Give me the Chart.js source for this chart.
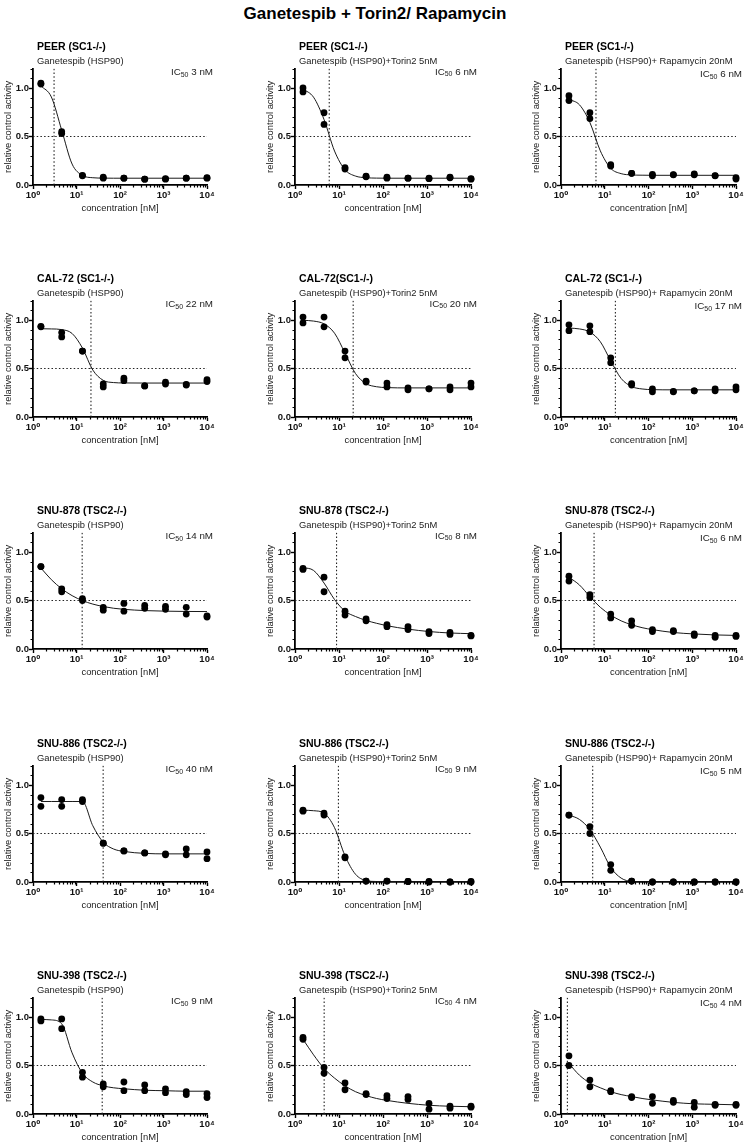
<!DOCTYPE html>
<html>
<head>
<meta charset="utf-8">
<script src="https://cdn.jsdelivr.net/npm/chart.js@4.4.1/dist/chart.umd.min.js"></script>
<style>
  html, body { margin: 0; padding: 0; background: #fff; overflow: hidden; }
  body { width: 750px; height: 1146px; position: relative; font-family: "Liberation Sans", Arial, sans-serif; }
  #mainTitle { position: absolute; left: 0; top: 3px; width: 750px; text-align: center;
               font-weight: bold; font-size: 17px; line-height: 22px; color: #000; }
  canvas { position: absolute; }
</style>
</head>
<body>
<div id="mainTitle">Ganetespib + Torin2/ Rapamycin</div>
<script>
// 3-fold dilution series (nM)
const conc = [1.52, 4.57, 13.7, 41.2, 123, 370, 1111, 3333, 10000];
const curveConc = [1.52, 2.64, 4.57, 7.92, 13.7, 23.7, 41.2, 71.3, 123, 370, 1111, 3333, 10000];

const xTicks = [1, 10, 100, 1000, 10000];
const yTicks = [0, 0.5, 1.0];

// panels, row by row
const cellLines = [
  'PEER (SC1-/-)', 'PEER (SC1-/-)', 'PEER (SC1-/-)',
  'CAL-72 (SC1-/-)', 'CAL-72(SC1-/-)', 'CAL-72 (SC1-/-)',
  'SNU-878 (TSC2-/-)', 'SNU-878 (TSC2-/-)', 'SNU-878 (TSC2-/-)',
  'SNU-886 (TSC2-/-)', 'SNU-886 (TSC2-/-)', 'SNU-886 (TSC2-/-)',
  'SNU-398 (TSC2-/-)', 'SNU-398 (TSC2-/-)', 'SNU-398 (TSC2-/-)'
];
const treatments = ['Ganetespib (HSP90)', 'Ganetespib (HSP90)+Torin2 5nM', 'Ganetespib (HSP90)+ Rapamycin 20nM'];
const ic50Labels = ['3', '6', '6', '22', '20', '17', '14', '8', '6', '40', '9', '5', '9', '4', '4'];
const ic50Lines = [3.05, 6.0, 6.3, 21.5, 21, 17.5, 13.5, 8.8, 5.7, 41, 9.7, 5.3, 39, 4.6, 1.4];

// replicate 1 / replicate 2 (relative control activity)
const repA = [
  [1.05, 0.55, 0.10, 0.08, 0.07, 0.06, 0.065, 0.07, 0.07],
  [1.00, 0.745, 0.18, 0.09, 0.08, 0.07, 0.07, 0.08, 0.065],
  [0.92, 0.745, 0.21, 0.12, 0.11, 0.107, 0.114, 0.097, 0.076],
  [0.935, 0.87, 0.68, 0.34, 0.40, 0.32, 0.36, 0.335, 0.385],
  [1.03, 1.03, 0.68, 0.37, 0.35, 0.30, 0.29, 0.31, 0.35],
  [0.95, 0.94, 0.61, 0.345, 0.29, 0.26, 0.27, 0.29, 0.31],
  [0.85, 0.62, 0.52, 0.43, 0.47, 0.45, 0.44, 0.43, 0.34],
  [0.83, 0.74, 0.39, 0.31, 0.25, 0.23, 0.18, 0.17, 0.14],
  [0.75, 0.56, 0.36, 0.29, 0.20, 0.19, 0.155, 0.14, 0.14],
  [0.87, 0.85, 0.85, 0.40, 0.32, 0.30, 0.29, 0.34, 0.31],
  [0.74, 0.71, 0.26, 0.01, 0.01, 0.005, 0.005, 0.0, 0.005],
  [0.69, 0.57, 0.18, 0.01, 0.0, 0.0, 0.0, 0.0, 0.0],
  [0.98, 0.98, 0.43, 0.31, 0.33, 0.30, 0.26, 0.23, 0.21],
  [0.79, 0.48, 0.32, 0.21, 0.19, 0.18, 0.11, 0.08, 0.08],
  [0.60, 0.35, 0.24, 0.18, 0.18, 0.14, 0.12, 0.10, 0.10]
];
const repB = [
  [1.04, 0.53, 0.095, 0.07, 0.07, 0.06, 0.06, 0.07, 0.075],
  [0.96, 0.625, 0.165, 0.085, 0.07, 0.07, 0.065, 0.075, 0.06],
  [0.87, 0.685, 0.195, 0.12, 0.095, 0.105, 0.105, 0.095, 0.062],
  [0.93, 0.826, 0.68, 0.31, 0.375, 0.32, 0.34, 0.33, 0.365],
  [0.97, 0.93, 0.61, 0.36, 0.31, 0.28, 0.29, 0.28, 0.31],
  [0.89, 0.88, 0.56, 0.33, 0.26, 0.265, 0.27, 0.27, 0.28],
  [0.85, 0.59, 0.50, 0.40, 0.39, 0.42, 0.41, 0.36, 0.33],
  [0.82, 0.59, 0.35, 0.29, 0.23, 0.20, 0.16, 0.15, 0.135],
  [0.70, 0.53, 0.32, 0.245, 0.18, 0.18, 0.14, 0.12, 0.13],
  [0.78, 0.78, 0.83, 0.40, 0.32, 0.30, 0.28, 0.28, 0.24],
  [0.73, 0.69, 0.25, 0.01, 0.01, 0.005, 0.0, 0.0, 0.0],
  [0.69, 0.50, 0.12, 0.01, 0.0, 0.0, 0.0, 0.0, 0.0],
  [0.96, 0.88, 0.38, 0.28, 0.24, 0.24, 0.22, 0.20, 0.17],
  [0.77, 0.42, 0.25, 0.20, 0.16, 0.15, 0.05, 0.06, 0.07],
  [0.50, 0.28, 0.23, 0.17, 0.11, 0.12, 0.07, 0.09, 0.09]
];

// fitted curve, read at curveConc
const fitY = [
  [1.022, 0.908, 0.565, 0.216, 0.099, 0.075, 0.071, 0.07, 0.07, 0.07, 0.07, 0.07, 0.07],
  [0.99, 0.905, 0.675, 0.35, 0.157, 0.092, 0.075, 0.071, 0.07, 0.07, 0.07, 0.07, 0.07],
  [0.883, 0.827, 0.645, 0.352, 0.172, 0.117, 0.104, 0.101, 0.10, 0.10, 0.10, 0.10, 0.10],
  [0.91, 0.908, 0.901, 0.861, 0.711, 0.484, 0.378, 0.355, 0.351, 0.35, 0.35, 0.35, 0.35],
  [0.997, 0.989, 0.96, 0.864, 0.659, 0.448, 0.344, 0.312, 0.303, 0.30, 0.30, 0.30, 0.30],
  [0.917, 0.908, 0.876, 0.776, 0.579, 0.397, 0.314, 0.289, 0.282, 0.28, 0.28, 0.28, 0.28],
  [0.835, 0.715, 0.621, 0.550, 0.499, 0.463, 0.438, 0.420, 0.409, 0.396, 0.39, 0.387, 0.386],
  [0.84, 0.81, 0.68, 0.51, 0.39, 0.335, 0.295, 0.265, 0.24, 0.205, 0.18, 0.165, 0.158],
  [0.74, 0.66, 0.54, 0.43, 0.35, 0.29, 0.25, 0.22, 0.20, 0.17, 0.155, 0.145, 0.14],
  [0.83, 0.83, 0.83, 0.83, 0.83, 0.58, 0.41, 0.34, 0.315, 0.295, 0.29, 0.29, 0.29],
  [0.74, 0.735, 0.71, 0.56, 0.27, 0.08, 0.015, 0.005, 0.003, 0.002, 0.002, 0.002, 0.002],
  [0.69, 0.645, 0.54, 0.36, 0.15, 0.04, 0.005, 0.0, 0.0, 0.0, 0.0, 0.0, 0.0],
  [0.975, 0.97, 0.93, 0.63, 0.42, 0.33, 0.29, 0.27, 0.26, 0.245, 0.24, 0.235, 0.235],
  [0.77, 0.61, 0.47, 0.37, 0.29, 0.23, 0.19, 0.16, 0.14, 0.11, 0.09, 0.08, 0.075],
  [0.52, 0.40, 0.32, 0.27, 0.23, 0.20, 0.18, 0.16, 0.145, 0.12, 0.105, 0.10, 0.095]
];

// page geometry
const colLeft = [33, 295, 561];   // y axis position
const colWidth = [174, 176, 175];
const rowZero = [185, 417, 649, 882, 1114]; // x axis position
const icDy = [3.7, 3.2, 5.7];
const Y_MAX = 1.2;
const FONT = '"Liberation Sans", Arial, Helvetica, "DejaVu Sans", sans-serif';
const SUP = { '0': '\u2070', '1': '\u00b9', '2': '\u00b2', '3': '\u00b3', '4': '\u2074' };

// titles, IC50 text and the short minor ticks
const panelText = {
  id: 'panelText',
  afterDraw(chart, args, opts) {
    const { ctx, chartArea: a } = chart;
    const xs = chart.scales.x, ys = chart.scales.y;
    ctx.save();
    ctx.strokeStyle = '#000';
    ctx.lineWidth = 1.2;
    ctx.beginPath();
    for (let d = 1; d < 10000; d *= 10) {
      for (let m = 2; m < 10; m++) {
        const px = Math.round(xs.getPixelForValue(m * d)) + 0.5;
        ctx.moveTo(px, a.bottom);
        ctx.lineTo(px, a.bottom + 2.5);
      }
    }
    for (let k = 1; k <= 12; k++) {
      if (k % 5 === 0) continue;
      const py = Math.round(ys.getPixelForValue(k / 10)) + 0.5;
      ctx.moveTo(a.left - 2.5, py);
      ctx.lineTo(a.left, py);
    }
    ctx.stroke();

    ctx.fillStyle = '#000';
    ctx.textBaseline = 'middle';
    ctx.textAlign = 'left';
    ctx.font = 'bold 10.5px ' + FONT;
    ctx.fillText(opts.title, a.left + 4, a.top - 21.3);
    ctx.fillStyle = '#222';
    ctx.font = '9.4px ' + FONT;
    ctx.fillText(opts.subtitle, a.left + 4, a.top - 7);

    const big = '9.8px ' + FONT, small = '7px ' + FONT;
    const tail = ' ' + opts.ic50 + ' nM';
    ctx.font = big;
    const w1 = ctx.measureText('IC').width, w3 = ctx.measureText(tail).width;
    ctx.font = small;
    const w2 = ctx.measureText('50').width;
    let x = a.right + 6 - (w1 + w2 + w3);
    const y = a.top + opts.dy;
    ctx.font = big; ctx.fillText('IC', x, y); x += w1;
    ctx.font = small; ctx.fillText('50', x, y + 2.6); x += w2;
    ctx.font = big; ctx.fillText(tail, x, y);
    ctx.restore();
  }
};

for (let i = 0; i < cellLines.length; i++) {
  const row = Math.floor(i / 3), col = i % 3;
  const canvas = document.createElement('canvas');
  const w = 33 + colWidth[col] + 30, h = 190;
  canvas.width = w; canvas.height = h;
  canvas.style.left = (colLeft[col] - 33) + 'px';
  canvas.style.top = (rowZero[row] - 157) + 'px';
  canvas.style.width = w + 'px'; canvas.style.height = h + 'px';
  document.body.appendChild(canvas);

  const points = conc.map((x, j) => ({ x, y: repA[i][j] }))
    .concat(conc.map((x, j) => ({ x, y: repB[i][j] })));
  const curve = curveConc.map((x, j) => ({ x, y: fitY[i][j] }));

  new Chart(canvas.getContext('2d'), {
    type: 'scatter',
    data: {
      datasets: [
        { data: points, backgroundColor: '#000', borderWidth: 0, pointRadius: 3.4, clip: false },
        { data: curve, showLine: true, pointRadius: 0, borderColor: '#1a1a1a', borderWidth: 1,
          cubicInterpolationMode: 'monotone' },
        { data: [{ x: 1, y: 0.5 }, { x: 10000, y: 0.5 }], showLine: true, pointRadius: 0,
          borderColor: '#222', borderWidth: 1.1, borderDash: [1.5, 2.2] },
        { data: [{ x: ic50Lines[i], y: 0 }, { x: ic50Lines[i], y: Y_MAX }], showLine: true, pointRadius: 0,
          borderColor: '#222', borderWidth: 1.1, borderDash: [1.5, 2.2] }
      ]
    },
    options: {
      responsive: false,
      animation: false,
      events: [],
      layout: { padding: { top: 40.6, right: 30, bottom: 3, left: 0 } },
      scales: {
        x: {
          type: 'logarithmic', min: 1, max: 10000,
          afterBuildTicks: (s) => { s.ticks = xTicks.map(v => ({ value: v })); },
          afterFit: (s) => { s.height = 30; s.paddingLeft = 0; s.paddingRight = 0; },
          border: { display: true, color: '#000', width: 1.8 },
          grid: { drawOnChartArea: false, drawTicks: true, tickLength: 4, tickColor: '#000', tickWidth: 1.4 },
          ticks: {
            autoSkip: false, maxRotation: 0, padding: 0.5, color: '#111',
            font: { family: FONT, size: 9.5, weight: 'bold' },
            callback: (v) => '10' + SUP[String(Math.round(Math.log10(v)))]
          },
          title: { display: true, text: 'concentration [nM]', color: '#222',
                   font: { family: FONT, size: 9.4 }, padding: { top: 0, bottom: 1.3 } }
        },
        y: {
          min: 0, max: Y_MAX,
          afterBuildTicks: (s) => { s.ticks = yTicks.map(v => ({ value: v })); },
          afterFit: (s) => { s.width = 33; s.paddingTop = 0; s.paddingBottom = 0; },
          border: { display: true, color: '#000', width: 1.8 },
          grid: { drawOnChartArea: false, drawTicks: true, tickLength: 4, tickColor: '#000', tickWidth: 1.4 },
          ticks: {
            autoSkip: false, padding: 0, color: '#111',
            font: { family: FONT, size: 9.5, weight: 'bold' },
            callback: (v) => Number(v).toFixed(1)
          },
          title: { display: true, text: 'relative control activity', color: '#222',
                   font: { family: FONT, size: 9.4 }, padding: { top: 2.3, bottom: 0 } }
        }
      },
      plugins: {
        legend: { display: false },
        tooltip: { enabled: false },
        panelText: { title: cellLines[i], subtitle: treatments[col], ic50: ic50Labels[i], dy: icDy[col] }
      }
    },
    plugins: [panelText]
  });
}
</script>
</body>
</html>
